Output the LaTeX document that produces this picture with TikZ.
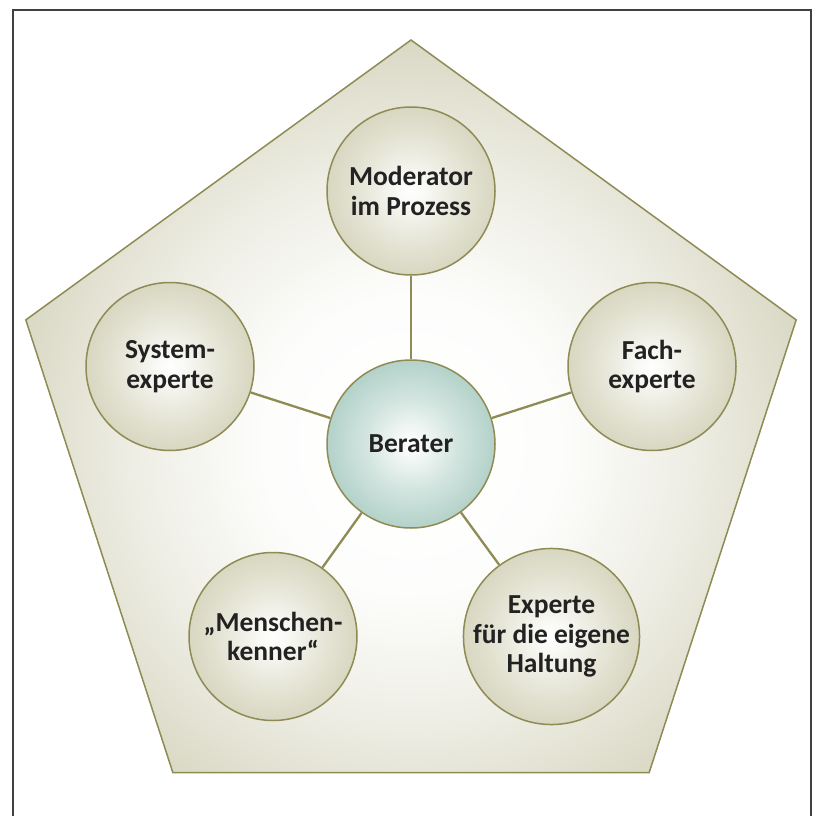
\documentclass[tikz,border=0pt]{standalone}
\usepackage{fontspec}
\setmainfont{Carlito}
\definecolor{olivestroke}{HTML}{8E8B55}
\definecolor{beige}{HTML}{D8D7C1}
\definecolor{pentedge}{HTML}{D9D8C4}
\definecolor{teal}{HTML}{B3D2C9}
\definecolor{framecol}{HTML}{404040}
\definecolor{txt}{HTML}{222222}
\pgfdeclareradialshading{bubblebeige}{\pgfpoint{0bp}{0bp}}{%
  color(0bp)=(white); color(4bp)=(white!85!beige); color(14bp)=(white!40!beige);
  color(25bp)=(beige); color(50bp)=(beige)}
\pgfdeclareradialshading{bubbleteal}{\pgfpoint{0bp}{0bp}}{%
  color(0bp)=(white); color(4bp)=(white!85!teal); color(14bp)=(white!40!teal);
  color(25bp)=(teal); color(50bp)=(teal)}
\pgfdeclareradialshading{pentshade}{\pgfpoint{0bp}{0bp}}{%
  color(0bp)=(white); color(9bp)=(white!95!pentedge); color(17bp)=(white!55!pentedge);
  color(25bp)=(pentedge); color(50bp)=(pentedge)}
\begin{document}
\begin{tikzpicture}[x=1pt,y=-1pt,
  bubble/.style={circle, draw=olivestroke, line width=1.5pt, minimum size=168pt,
    inner sep=0pt, align=center, text=txt, shading=bubblebeige,
    font=\bfseries\fontsize{27.5}{29.5}\selectfont},
  centre/.style={bubble, shading=bubbleteal},
  link/.style={draw=olivestroke, line width=2.3pt},
  pentline/.style={draw=olivestroke, line width=1.5pt, line join=miter}]
\useasboundingbox (0,0) rectangle (819,816);

% outer frame, open at the bottom edge of the page
\begin{scope}
  \clip (0,0) rectangle (819,816);
  \draw[draw=framecol, line width=2pt] (12.5,10) rectangle (810.5,840);
\end{scope}

% pentagon with a soft radial fill
\coordinate (pc) at (411,445);
\coordinate (p1) at (411,40);
\coordinate (p2) at (796.2,319.9);
\coordinate (p3) at (649.1,772.7);
\coordinate (p4) at (172.9,772.7);
\coordinate (p5) at (25.8,319.9);
\begin{scope}
  \clip (p1) -- (p2) -- (p3) -- (p4) -- (p5) -- cycle;
  \shade[shading=pentshade] (pc) circle (410);
\end{scope}
\path[pentline] (p1) -- (p2) -- (p3) -- (p4) -- (p5) -- cycle;

% roles
\node[centre] (ber) at (411,444) {Berater};
\node[bubble] (mod) at (411,191) {Moderator\\im Prozess};
\node[bubble] (sys) at (170,366.5) {System-\\experte};
\node[bubble] (fach) at (652,366.5) {Fach-\\experte};
\node[bubble] (men) at (273,636.5) {„Menschen-\\kenner“};
\node[bubble] (hal) at (551.5,636.5) {Experte\\für die eigene\\Haltung};

% connectors
\foreach \n in {mod,sys,fach,men,hal}
  \draw[link] (ber) -- (\n);
\end{tikzpicture}
\end{document}
